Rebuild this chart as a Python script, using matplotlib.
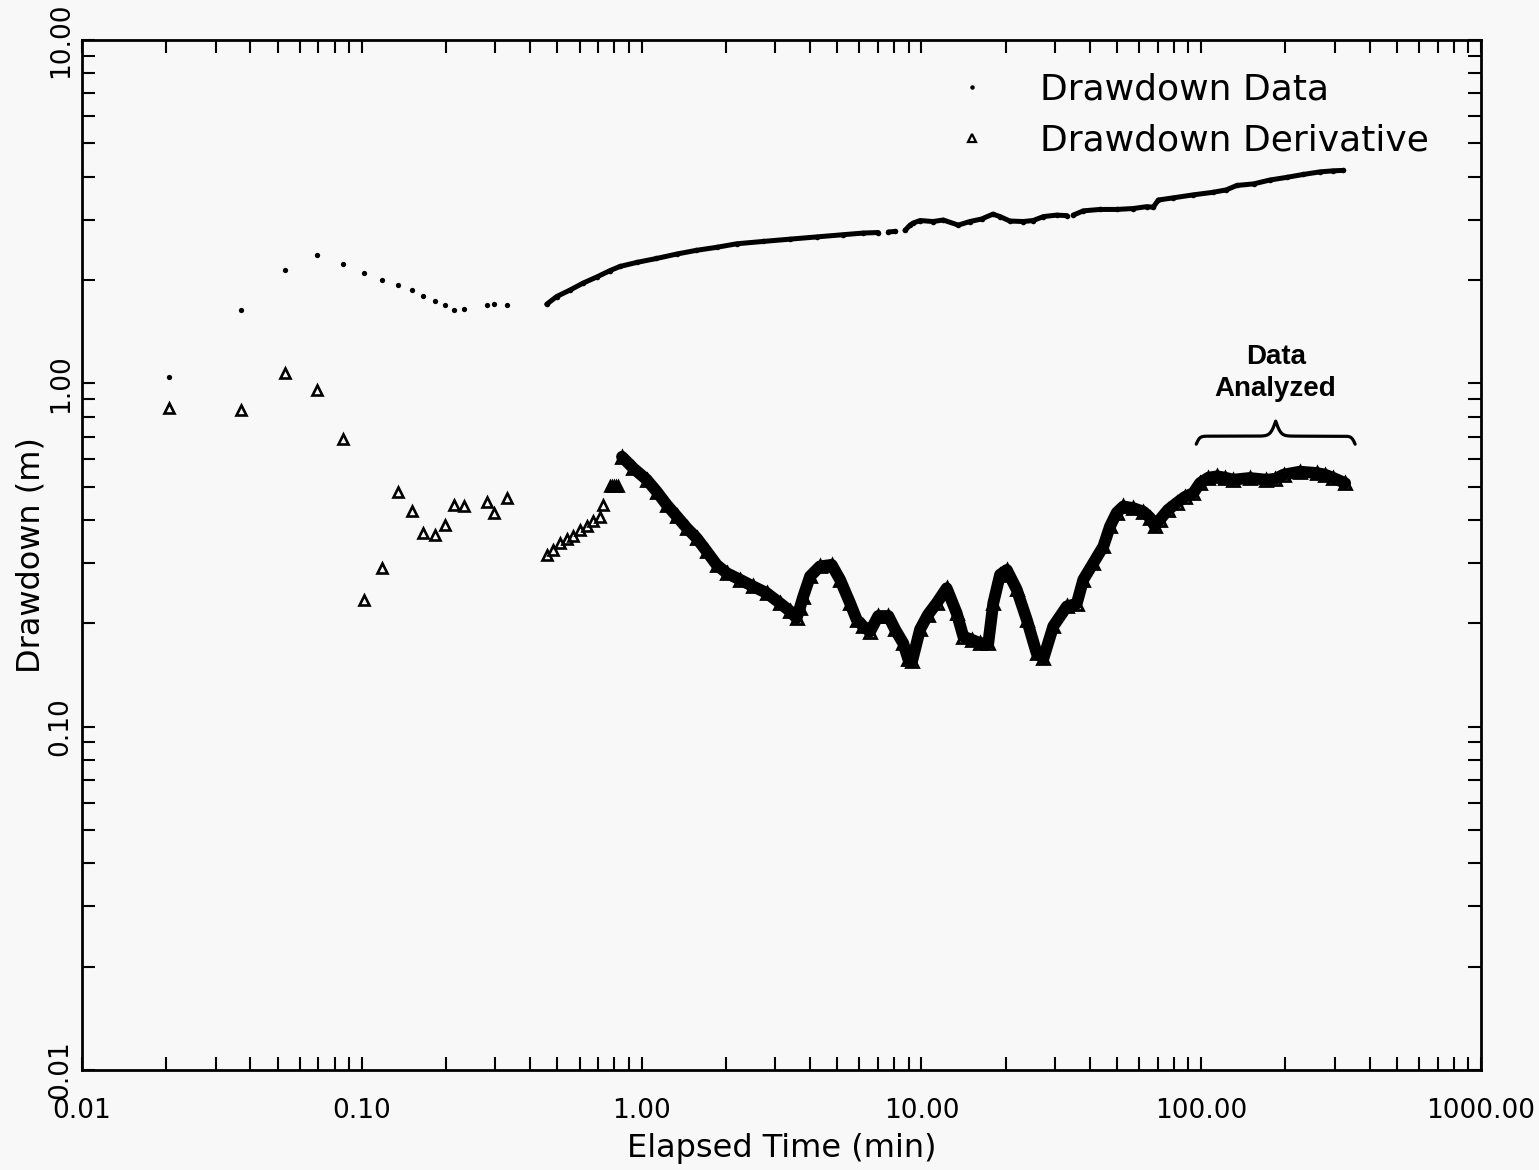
import numpy as np
import matplotlib
matplotlib.use("Agg")
import matplotlib.pyplot as plt
from matplotlib.lines import Line2D
from matplotlib.ticker import FixedLocator, FixedFormatter, LogLocator, NullFormatter

# ---- pumping-test record -------------------------------------------------
# early-time samples (shared times for drawdown and its derivative)
t_early = [0.0205, 0.0369, 0.0532, 0.0692, 0.0857, 0.102, 0.118, 0.135, 0.151,
           0.166, 0.182, 0.198, 0.214, 0.231, 0.280, 0.296, 0.329]
s_early = [1.04, 1.64, 2.14, 2.37, 2.22, 2.10, 2.00, 1.93, 1.87,
           1.80, 1.74, 1.69, 1.64, 1.65, 1.69, 1.70, 1.69]
d_early = [0.845, 0.836, 1.07, 0.955, 0.688, 0.234, 0.290, 0.482, 0.425,
           0.367, 0.361, 0.386, 0.442, 0.439, 0.452, 0.420, 0.464]

# logger record of drawdown (nan = pause in logging)
nan = np.nan
t_draw = [0.458, 0.497, 0.555, 0.619, 0.691, 0.771, 0.837, 0.961, 1.13, 1.335,
          1.57, 1.855, 2.19, 2.72, 3.39, 4.23, 5.26, 6.20, 7.01, nan,
          7.62, 8.05, nan, 8.74, 9.11, 9.35, 9.89, 11.0, 11.97, 13.55,
          14.9, 16.4, 18.0, 19.1, 20.7, 23.1, 25.1, 27.3, 30.4, 33.1,
          nan, 34.9, 37.9, 43.5, 49.9, 57.2, 63.8, 67.4, 70.3, 79.5,
          93.7, 110, 123, 134, 154, 176, 202, 232, 266, 297, 322]
s_draw = [1.70, 1.79, 1.87, 1.96, 2.04, 2.13, 2.19, 2.25, 2.31, 2.38,
          2.44, 2.49, 2.55, 2.59, 2.63, 2.67, 2.71, 2.74, 2.75, nan,
          2.76, 2.77, nan, 2.79, 2.89, 2.93, 2.98, 2.96, 2.99, 2.89,
          2.96, 3.01, 3.11, 3.06, 2.97, 2.96, 2.98, 3.06, 3.09, 3.08,
          nan, 3.09, 3.18, 3.21, 3.21, 3.23, 3.27, 3.26, 3.42, 3.47,
          3.54, 3.60, 3.66, 3.77, 3.81, 3.91, 3.98, 4.06, 4.13, 4.16, 4.17]

# logarithmic derivative of the logger record
t_deriv = [0.458, 0.484, 0.511, 0.540, 0.570, 0.602, 0.636, 0.672, 0.710, 0.730,
           0.771, 0.785, 0.797, 0.810, 0.823,
           0.851, 0.934, 1.043, 1.132, 1.229, 1.335, 1.45, 1.574, 1.709, 1.855,
           2.015, 2.247, 2.507, 2.80, 3.12, 3.39, 3.58, 3.68, 3.78, 4.00,
           4.34, 4.78, 5.12, 5.56, 5.87, 6.20, 6.55, 7.01, 7.62, 8.05,
           8.61, 8.98, 9.26, 9.89, 10.56, 11.34, 12.31, 13.37, 14.12, 15.17,
           16.20, 17.34, 18.07, 19.1, 20.2, 21.9, 23.8, 25.8, 27.3, 29.6,
           33.1, 35.9, 37.9, 41.2, 44.7, 47.2, 49.9, 52.7, 57.2, 62.1,
           65.6, 68.4, 71.2, 76.1, 81.7, 87.5, 93.7, 99.0, 106, 114,
           122, 130, 149, 171, 184, 197, 225, 259, 277, 297, 327]
d_deriv = [0.317, 0.328, 0.343, 0.352, 0.360, 0.375, 0.383, 0.396, 0.408, 0.443,
           0.503, 0.503, 0.503, 0.503, 0.503,
           0.611, 0.566, 0.524, 0.484, 0.443, 0.410, 0.379, 0.354, 0.324, 0.296,
           0.280, 0.268, 0.256, 0.245, 0.229, 0.217, 0.207, 0.222, 0.239, 0.274,
           0.293, 0.296, 0.268, 0.229, 0.205, 0.196, 0.189, 0.210, 0.210, 0.192,
           0.175, 0.157, 0.155, 0.192, 0.212, 0.229, 0.253, 0.214, 0.183, 0.179,
           0.175, 0.175, 0.229, 0.277, 0.286, 0.251, 0.205, 0.164, 0.158, 0.196,
           0.224, 0.228, 0.268, 0.300, 0.335, 0.383, 0.420, 0.438, 0.433, 0.423,
           0.406, 0.383, 0.401, 0.428, 0.448, 0.467, 0.479, 0.512, 0.531, 0.536,
           0.531, 0.524, 0.530, 0.524, 0.527, 0.542, 0.553, 0.548, 0.542, 0.530, 0.512]

x_ticks = [0.01, 0.1, 1, 10, 100, 1000]
x_labels = ["0.01", "0.10", "1.00", "10.00", "100.00", "1000.00"]
y_ticks = [0.01, 0.1, 1, 10]
y_labels = ["0.01", "0.10", "1.00", "10.00"]

legend_labels = ["Drawdown Data", "Drawdown Derivative"]
note_text = "Data\nAnalyzed"
analyzed_span = (96, 355)      # time window marked by the brace (min)
brace_base = 0.665             # drawdown level of the brace tips (m)

# ---- figure ----------------------------------------------------------------
BG = "#f8f8f8"
plt.rcParams["font.family"] = ["DejaVu Sans"]
fig = plt.figure(figsize=(15.39, 11.70), dpi=100, facecolor=BG)
ax = fig.add_axes([0.0533, 0.0855, 0.909, 0.8803])
ax.set_facecolor(BG)
ax.set_xscale("log")
ax.set_yscale("log")
ax.set_xlim(0.01, 1000)
ax.set_ylim(0.01, 10)

for sp in ax.spines.values():
    sp.set_linewidth(2.0)

ax.xaxis.set_major_locator(FixedLocator(x_ticks))
ax.xaxis.set_major_formatter(FixedFormatter(x_labels))
ax.xaxis.set_minor_locator(LogLocator(base=10, subs=np.arange(2, 10)))
ax.xaxis.set_minor_formatter(NullFormatter())
ax.yaxis.set_major_locator(FixedLocator(y_ticks))
ax.yaxis.set_major_formatter(FixedFormatter(y_labels))
ax.yaxis.set_minor_locator(LogLocator(base=10, subs=np.arange(2, 10)))
ax.yaxis.set_minor_formatter(NullFormatter())

ax.tick_params(which="both", direction="in", top=True, right=True,
               length=9.5, width=1.5, color="k")
ax.tick_params(axis="x", which="major", pad=20, labelsize=19)
ax.tick_params(axis="y", which="major", pad=6, labelsize=19, labelrotation=90)
for lbl in ax.get_yticklabels():
    lbl.set_va("center")

ax.set_xlabel("Elapsed Time (min)", fontsize=23, labelpad=7)
ax.set_ylabel("Drawdown (m)", fontsize=23, labelpad=1)

# drawdown
ax.plot(t_early, s_early, ls="none", marker="o", ms=3.8, mew=0, color="k")
ax.plot(t_draw, s_draw, color="k", lw=3.6, marker="o", ms=4.0, mew=0,
        solid_capstyle="round", solid_joinstyle="round")

# derivative: sparse samples as open triangles, continuous record as a band
tri = dict(marker="^", ms=7.5, mfc="none", mec="k", mew=1.9)
ax.plot(t_early, d_early, ls="none", **tri)
t_d = np.array(t_deriv)
d_d = np.array(d_deriv)
ramp = t_d < 0.84
ax.plot(t_d[ramp], d_d[ramp], ls="none", **tri)
ax.plot(t_d[~ramp], d_d[~ramp], color="k", lw=8.5,
        solid_capstyle="round", solid_joinstyle="round",
        marker="^", ms=8.5, mfc="none", mec="k", mew=2.0)

# legend
handles = [Line2D([], [], ls="none", marker="o", ms=3.2, mew=0, color="k"),
           Line2D([], [], ls="none", marker="^", ms=6, mfc="none", mec="k", mew=1.6)]
ax.legend(handles, legend_labels, loc="upper left", bbox_to_anchor=(0.6233, 0.968),
          frameon=False, fontsize=26, handlelength=1.0, handletextpad=1.39,
          labelspacing=0.45, borderpad=0, borderaxespad=0)

# brace and note over the analysed window
u = np.linspace(0, 1, 601)
half = np.minimum(u, 1 - u)
flat, peak = 0.0233, 0.0437      # brace rise in decades
rise = flat * (2 / (1 + np.exp(-90 * half)) - 1) + peak * 2 / (1 + np.exp(-60 * (half - 0.5)))
lx0, lx1 = np.log10(analyzed_span[0]), np.log10(analyzed_span[1])
ax.plot(10 ** (lx0 + u * (lx1 - lx0)), 10 ** (np.log10(brace_base) + rise),
        color="k", lw=2.3, solid_capstyle="round")
ax.text(10 ** ((lx0 + lx1) / 2), 1.07, note_text, ha="center", va="center",
        fontsize=20, fontweight="bold", family=["Liberation Sans", "DejaVu Sans"],
        linespacing=1.3)

fig.savefig("out.png", dpi=100, facecolor=BG)
